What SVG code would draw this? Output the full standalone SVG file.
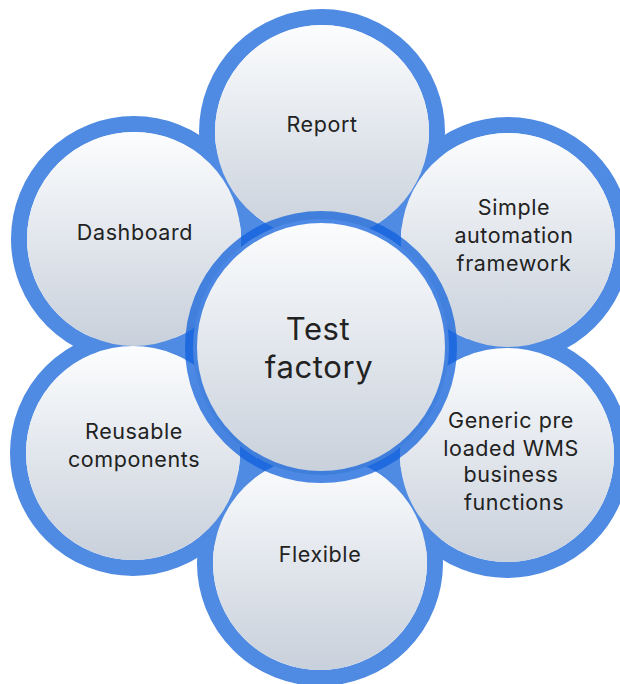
<svg xmlns="http://www.w3.org/2000/svg" width="620" height="684" viewBox="0 0 620 684">
<defs>
<linearGradient id="g" x1="0" y1="0" x2="0" y2="1">
<stop offset="0" stop-color="#fcfdfe"/>
<stop offset="1" stop-color="#c8d0db"/>
</linearGradient>
<style>
.ring{fill:none;stroke:#4f8ae3;stroke-width:16}
.fill{fill:url(#g)}
.cring{fill:none;stroke:#0d5edc;stroke-opacity:0.73;stroke-width:12}
.t{font-family:Inter,"Liberation Sans",sans-serif;font-size:21.5px;letter-spacing:0.6px;fill:#222;text-anchor:middle}
.tc{font-family:Inter,"Liberation Sans",sans-serif;font-size:31px;letter-spacing:0.6px;fill:#222;text-anchor:middle}
</style>
</defs>
<rect width="620" height="684" fill="#fff"/>
<g id="rings">
<circle class="ring" cx="322" cy="132" r="115"/>
<circle class="ring" cx="508" cy="240" r="115"/>
<circle class="ring" cx="507" cy="455" r="115"/>
<circle class="ring" cx="320" cy="563" r="115"/>
<circle class="ring" cx="133" cy="453" r="115"/>
<circle class="ring" cx="134" cy="239" r="115"/>
</g>
<g id="report">
<circle class="fill" cx="322" cy="132" r="107"/>
<text class="t" x="322" y="132">Report</text>
</g>
<g id="simple">
<circle class="fill" cx="508" cy="240" r="107"/>
<text class="t" x="514" y="215">Simple</text>
<text class="t" x="514" y="243">automation</text>
<text class="t" x="514" y="271">framework</text>
</g>
<g id="generic">
<circle class="fill" cx="507" cy="455" r="107"/>
<text class="t" x="511" y="428">Generic pre</text>
<text class="t" x="511" y="456">loaded WMS</text>
<text class="t" x="511" y="482">business</text>
<text class="t" x="514" y="510">functions</text>
</g>
<g id="flexible">
<circle class="fill" cx="320" cy="563" r="107"/>
<text class="t" x="320" y="562">Flexible</text>
</g>
<g id="reusable">
<circle class="fill" cx="133" cy="453" r="107"/>
<text class="t" x="134" y="439">Reusable</text>
<text class="t" x="134" y="467">components</text>
</g>
<g id="dashboard">
<circle class="fill" cx="134" cy="239" r="107"/>
<text class="t" x="135" y="240">Dashboard</text>
</g>
<g id="center">
<circle class="fill" cx="321" cy="347" r="128"/>
<circle class="cring" cx="321" cy="347" r="130"/>
<text class="tc" x="318" y="340">Test</text>
<text class="tc" x="319" y="378">factory</text>
</g>
</svg>
